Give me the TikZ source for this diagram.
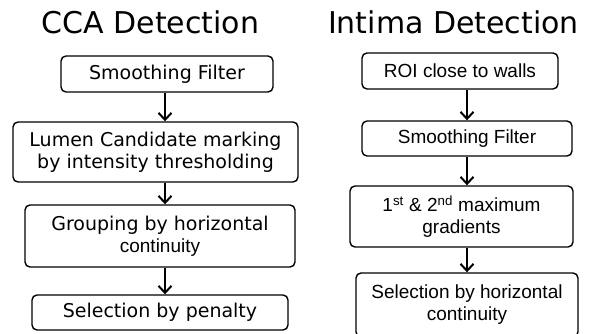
\documentclass[tikz,border=0pt]{standalone}
\usepackage{fontspec}
\setmainfont{DejaVu Sans}
\newfontfamily\arialfont{Liberation Sans}
\usetikzlibrary{arrows.meta}

\tikzset{
  box/.style={draw, line width=1.4pt, rounded corners=5pt, align=center,
    inner sep=0pt, font=\fontsize{19}{22}\selectfont},
  abox/.style={box, font=\arialfont\fontsize{19}{22}\selectfont},
  title/.style={anchor=base, font=\fontsize{30}{32}\selectfont},
  flow/.style={-{Straight Barb[length=7pt,width=13pt,line width=2pt]}, line width=2pt}
}

\begin{document}
\begin{tikzpicture}[x=1pt,y=1pt]
\useasboundingbox (0,0) rectangle (595,-333);
% CCA column
\node[title] (ccat) at (150.5,-33) {CCA Detection};
\node[box, minimum width=212, minimum height=36] (ccasmooth) at (167,-74) {Smoothing Filter};
\node[box, minimum width=285, minimum height=60] (ccalumen) at (155.5,-152) {Lumen Candidate marking\\by intensity thresholding};
\node[box, minimum width=270, minimum height=62] (ccagroup) at (160,-236) {Grouping by horizontal\\{\arialfont\fontsize{19}{22}\selectfont continuity}};
\node[box, minimum width=256, minimum height=35] (ccapen) at (160,-312.5) {Selection by penalty};
\draw[flow] ([xshift=-2]ccasmooth.south) -- ([xshift=-2]ccasmooth.south |- ccalumen.north);
\draw[flow] ([xshift=5]ccagroup.north |- ccalumen.south) -- ([xshift=5]ccagroup.north);
\draw[flow] ([xshift=5]ccagroup.south) -- ([xshift=5]ccapen.north);
% Intima column
\node[title] (intt) at (453.5,-33) {Intima Detection};
\node[abox, minimum width=196, minimum height=36] (introi) at (460,-71) {ROI close to walls};
\node[abox, minimum width=210, minimum height=35] (intsmooth) at (467,-138.5) {Smoothing Filter};
\node[abox, minimum width=223, minimum height=61] (intgrad) at (461.5,-216.5) {1\textsuperscript{st} \& 2\textsuperscript{nd} maximum\\gradients};
\node[abox, minimum width=222, minimum height=64] (intsel) at (467,-305) {Selection by horizontal\\continuity};
\draw[flow] ([xshift=7]introi.south) -- (intsmooth.north);
\draw[flow] (intsmooth.south) -- (intsmooth.south |- intgrad.north);
\draw[flow] (intsmooth.south |- intgrad.south) -- (intsel.north);
\end{tikzpicture}
\end{document}
